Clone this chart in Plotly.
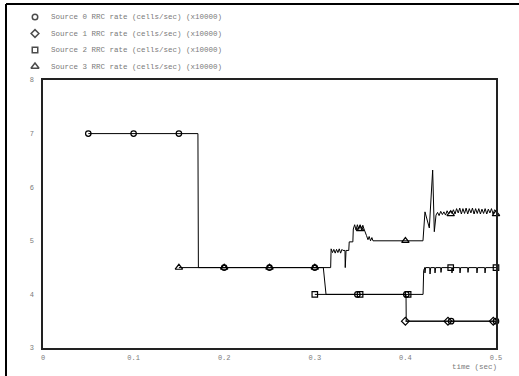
import plotly.graph_objects as go

# ---- data: RRC rate per source (cells/sec, x10000) versus time (sec) ----
src0_t = [0.05, 0.171, 0.1715, 0.3094, 0.3124, 0.4007, 0.4009, 0.5]
src0_v = [7.0, 7.0, 4.5, 4.5, 4.0, 4.0, 3.5, 3.5]
src0_mt = [0.05, 0.10, 0.15, 0.20, 0.25, 0.30, 0.347, 0.401, 0.4505, 0.5]
src0_mv = [7.0, 7.0, 7.0, 4.5, 4.5, 4.5, 4.0, 4.0, 3.5, 3.5]

src1_t = [0.40, 0.5]
src1_v = [3.5, 3.5]
src1_mt = [0.40, 0.447, 0.497]
src1_mv = [3.5, 3.5, 3.5]

src2_t = [0.30, 0.4195, 0.4202, 0.4215,
          0.4212, 0.4216, 0.4223, 0.4268, 0.4272, 0.4279, 0.4323, 0.4327, 0.4334,
          0.4389, 0.4393, 0.44, 0.451, 0.4514, 0.4521, 0.4599, 0.4603, 0.461,
          0.4687, 0.4691, 0.4698, 0.4786, 0.479, 0.4797, 0.4875, 0.4879, 0.4886,
          0.5]
src2_v = [4.0, 4.0, 4.45, 4.5,
          4.5, 4.4, 4.5, 4.5, 4.38, 4.5, 4.5, 4.4, 4.5,
          4.5, 4.41, 4.5, 4.5, 4.4, 4.5, 4.5, 4.4, 4.5,
          4.5, 4.41, 4.5, 4.5, 4.4, 4.5, 4.5, 4.4, 4.5,
          4.5]
src2_mt = [0.30, 0.35, 0.403, 0.45, 0.5]
src2_mv = [4.0, 4.0, 4.0, 4.5, 4.5]

src3_t = [0.15, 0.3175, 0.318, 0.3195, 0.321, 0.3225, 0.324, 0.3255, 0.327,
          0.3285, 0.330, 0.331, 0.3333, 0.3336, 0.3345, 0.3375, 0.338, 0.342,
          0.3425, 0.344, 0.3455, 0.347, 0.3485, 0.350, 0.3515, 0.353, 0.3543,
          0.3555, 0.357, 0.3587, 0.360, 0.3615, 0.363, 0.3642, 0.4194, 0.4216,
          0.4264, 0.4301, 0.4319, 0.4338, 0.4355, 0.4372, 0.439, 0.4408, 0.4425,
          0.4443, 0.446, 0.4478, 0.4495, 0.4513, 0.453, 0.4548, 0.4565, 0.4583,
          0.46, 0.4618, 0.4635, 0.4653, 0.467, 0.4688, 0.4705, 0.4723, 0.474,
          0.4758, 0.4775, 0.4793, 0.481, 0.4828, 0.4845, 0.4863, 0.488, 0.4898,
          0.4915, 0.4933, 0.495, 0.4968, 0.4985, 0.5]
src3_v = [4.5, 4.5, 4.85, 4.78, 4.84, 4.77, 4.84, 4.78, 4.85,
          4.77, 4.84, 4.82, 4.82, 4.5, 4.82, 4.82, 4.98, 4.98,
          5.22, 5.3, 5.2, 5.3, 5.21, 5.3, 5.2, 5.29, 5.22,
          5.15, 5.1, 5.02, 5.08, 5.0, 5.06, 5.0, 5.0, 5.54,
          5.24, 6.32, 5.17, 5.48, 5.53, 5.47, 5.55, 5.49, 5.54,
          5.48, 5.56, 5.5, 5.55, 5.51, 5.58, 5.5, 5.6, 5.52,
          5.61, 5.5, 5.6, 5.51, 5.61, 5.5, 5.6, 5.52, 5.61,
          5.5, 5.6, 5.51, 5.6, 5.5, 5.59, 5.51, 5.6, 5.5,
          5.59, 5.52, 5.6, 5.5, 5.58, 5.55]
src3_mt = [0.15, 0.20, 0.25, 0.30, 0.35, 0.40, 0.45, 0.5]
src3_mv = [4.5, 4.5, 4.5, 4.5, 5.22, 5.0, 5.5, 5.5]

legend_labels = [
    "Source 0 RRC rate (cells/sec) (x10000)",
    "Source 1 RRC rate (cells/sec) (x10000)",
    "Source 2 RRC rate (cells/sec) (x10000)",
    "Source 3 RRC rate (cells/sec) (x10000)",
]
symbols = ["circle-open", "diamond-open", "square-open", "triangle-up-open"]
sym_sizes = [5.5, 6, 5.5, 6.5]

x_ticks = [0, 0.1, 0.2, 0.3, 0.4, 0.5]
y_ticks = [3, 4, 5, 6, 7, 8]

MONO = "Liberation Mono"
GREY = "#7a7a7a"

# page size and plot-area box in pixels
W, H = 519, 376
L, R, T, B = 43, 496, 80, 348

fig = go.Figure()

series = [
    (src0_t, src0_v, src0_mt, src0_mv),
    (src1_t, src1_v, src1_mt, src1_mv),
    (src2_t, src2_v, src2_mt, src2_mv),
    (src3_t, src3_v, src3_mt, src3_mv),
]
for i, (t, v, mt, mv) in enumerate(series):
    fig.add_trace(go.Scatter(x=t, y=v, mode="lines",
                             line=dict(color="black", width=1),
                             showlegend=False, hoverinfo="skip"))
    fig.add_trace(go.Scatter(x=mt, y=mv, mode="markers",
                             marker=dict(symbol=symbols[i], size=sym_sizes[i],
                                         color="black",
                                         line=dict(color="black", width=1.2)),
                             showlegend=False, cliponaxis=False))

# legend key, laid out on a full-page pixel axis pair (x2 / y2)
key_x = [35, 35, 35, 35]
key_y = [17, 33.5, 50, 66.5]
fig.add_trace(go.Scatter(x=key_x, y=key_y, mode="markers", xaxis="x2", yaxis="y2",
                         marker=dict(symbol=symbols, size=[5.5, 6, 5.5, 7], color="black",
                                     line=dict(color="black", width=1.5)),
                         showlegend=False, hoverinfo="skip"))
for lbl, ky in zip(legend_labels, key_y):
    fig.add_annotation(x=48.5, y=ky, xref="x2", yref="y2", text=lbl,
                       showarrow=False, xanchor="left", yanchor="middle",
                       font=dict(family=MONO, size=7.5, color=GREY))

fig.add_annotation(x=R + 2.5, y=366.5, xref="x2", yref="y2", text="time (sec)",
                   showarrow=False, xanchor="right", yanchor="middle",
                   font=dict(family=MONO, size=7.5, color=GREY))

# outer frame (top and left edges)
fig.add_shape(type="line", xref="x2", yref="y2", x0=6, x1=W + 5, y0=4, y1=4,
              line=dict(color="black", width=2))
fig.add_shape(type="line", xref="x2", yref="y2", x0=6, x1=6, y0=4, y1=H + 5,
              line=dict(color="black", width=2))

fig.update_layout(
    width=W, height=H,
    margin=dict(l=0, r=0, t=0, b=0),
    paper_bgcolor="white", plot_bgcolor="rgba(0,0,0,0)",
    showlegend=False,
    xaxis=dict(domain=[L / W, R / W], anchor="y", automargin=False,
               range=[0, 0.5], tickvals=x_ticks, ticktext=[f"{v:g}" for v in x_ticks],
               showgrid=False, zeroline=False, showline=True, mirror=True,
               linecolor="#222", linewidth=1.5, ticks="", ticklabelstandoff=2,
               tickfont=dict(family=MONO, size=7, color=GREY)),
    yaxis=dict(domain=[1 - B / H, 1 - T / H], anchor="x", automargin=False,
               range=[3, 8], tickvals=y_ticks, ticktext=[str(v) for v in y_ticks],
               showgrid=False, zeroline=False, showline=True, mirror=True,
               linecolor="#222", linewidth=1.5, ticks="", ticklabelstandoff=6,
               tickfont=dict(family=MONO, size=7, color=GREY)),
    xaxis2=dict(domain=[0, 1], anchor="y2", range=[0, W], visible=False,
                fixedrange=True, automargin=False),
    yaxis2=dict(domain=[0, 1], anchor="x2", range=[H, 0], visible=False,
                fixedrange=True, automargin=False),
)

fig.write_html("out.html")
